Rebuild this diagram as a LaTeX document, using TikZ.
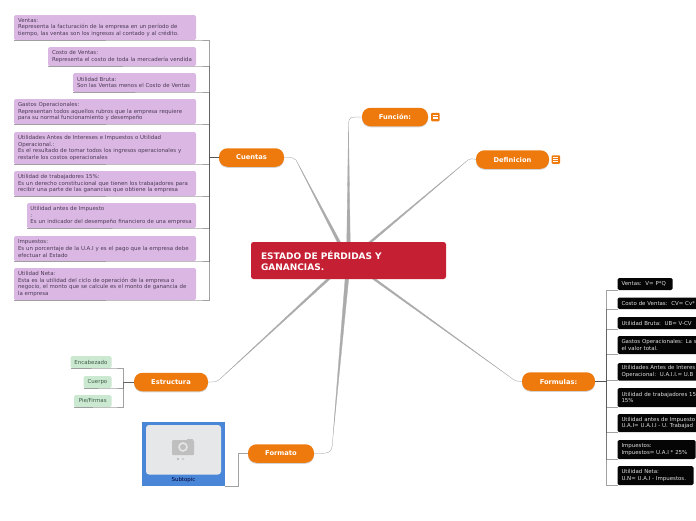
\documentclass[tikz,border=0pt]{standalone}
\usepackage{fontspec}
\setmainfont{DejaVu Sans}
\usetikzlibrary{positioning, calc, shadows, backgrounds}
\definecolor{rootred}{HTML}{C51F33}
\definecolor{branchorange}{HTML}{EE7A0E}
\definecolor{notepurple}{HTML}{DBB8E3}
\definecolor{notetext}{HTML}{4B3A55}
\definecolor{leafgreen}{HTML}{CBE8D0}
\definecolor{leaftext}{HTML}{3C5A48}
\definecolor{formulablack}{HTML}{050505}
\definecolor{photoblue}{HTML}{4A86D8}
\definecolor{photogray}{HTML}{E6E7E9}
\definecolor{linkgray}{HTML}{ABABAB}
\definecolor{bracegray}{HTML}{555555}
% spoke: target, end of the straight part, corner
\newcommand{\spoke}[3]{%
  \path[link] ($(root.center)+(-2,0)$) -- (#2) .. controls (#3) .. (#1)
    .. controls (#3) .. (#2) -- ($(root.center)+(2,0)$) -- cycle;}

\begin{document}
\begin{tikzpicture}[
    x=1pt, y=-1pt,
    every node/.style={inner sep=0pt, outer sep=0pt},
    rootbox/.style={rectangle, rounded corners=2.5pt, fill=rootred, text=white,
                    font=\fontsize{9}{11.2}\selectfont\bfseries, align=left,
                    minimum width=195pt, minimum height=37pt,
                    text width=175pt},
    branch/.style={rectangle, rounded corners=8.5pt, fill=branchorange, text=white,
                   font=\fontsize{6.7}{8}\selectfont\bfseries, minimum height=18.5pt,
                   drop shadow={shadow xshift=0pt, shadow yshift=-1pt, opacity=0.35}},
    notebox/.style={rectangle, rounded corners=1.5pt, fill=notepurple, text=notetext,
                    font=\fontsize{5.45}{6.6}\selectfont, align=left, anchor=north east,
                    text width=#1-8pt, minimum width=#1, inner xsep=4pt},
    formula/.style={rectangle, rounded corners=1.5pt, fill=formulablack, text=white!88!black,
                    font=\fontsize{5.45}{6.6}\selectfont, align=left, anchor=north west,
                    text width=#1-8pt, minimum width=#1, inner xsep=4pt},
    leaf/.style={rectangle, rounded corners=1.5pt, fill=leafgreen, text=leaftext,
                 font=\fontsize{5.45}{6.6}\selectfont, anchor=north east, minimum height=12pt},
    noteicon/.style={rectangle, rounded corners=1pt, fill=branchorange, minimum size=8.5pt,
                     path picture={
                       \foreach \yy in {-1.8,0,1.8}
                         \draw[white, line width=0.7pt]
                           ($(path picture bounding box.center)+(-2.4,\yy)$) -- ++(4.8,0);}},
    link/.style={fill=linkgray, draw=linkgray, line width=0.3pt, line join=round},
    brace/.style={draw=bracegray, draw opacity=0.55, line width=0.7pt}
]
\useasboundingbox (0,0) rectangle (696,520);

% Center and branches
\node[rootbox] (root) at (348.5,260.5)
    {ESTADO DE PÉRDIDAS Y\\GANANCIAS.};
\node[branch, minimum width=66pt] (funcion) at (395,117) {Función:};
\node[branch, minimum width=73pt] (definicion) at (512.5,159.5) {Definicion};
\node[branch, minimum width=65pt] (cuentas) at (251.5,157.5) {Cuentas};
\node[branch, minimum width=74pt] (estructura) at (171,382) {Estructura};
\node[branch, minimum width=66pt] (formato) at (281,453.5) {Formato};
\node[branch, minimum width=73pt] (formulas) at (558.5,381.5) {Formulas:};

\node[noteicon, right=3pt of funcion] (funcionnote) {};
\node[noteicon, right=2.5pt of definicion] (definicionnote) {};

% Notes of Cuentas
\node[notebox=182pt, minimum height=25pt] (ventas) at (196,15)
    {Ventas:\\Representa la facturación de la empresa en un período de\\tiempo, las ventas son los ingresos al contado y al crédito.};
\node[notebox=148pt, minimum height=19pt] (costo) at (196,47)
    {Costo de Ventas:\\Representa el costo de toda la mercadería vendida};
\node[notebox=123pt, minimum height=19pt] (bruta) at (196,73)
    {Utilidad Bruta:\\Son las Ventas menos el Costo de Ventas};
\node[notebox=182pt, minimum height=25pt] (gastos) at (196,99)
    {Gastos Operacionales:\\Representan todos aquellos rubros que la empresa requiere\\para su normal funcionamiento y desempeño};
\node[notebox=182pt, minimum height=32pt] (antesint) at (196,132)
    {Utilidades Antes de Intereses e Impuestos o Utilidad\\Operacional.:\\Es el resultado de tomar todos los ingresos operacionales y\\restarle los costos operacionales};
\node[notebox=182pt, minimum height=25pt] (trabajadores) at (196,171)
    {Utilidad de trabajadores 15\%:\\Es un derecho constitucional que tienen los trabajadores para\\recibir una parte de las ganancias que obtiene la empresa};
\node[notebox=169pt, text width=162pt, inner xsep=3.5pt, minimum height=25pt] (antesimp) at (196,203)
    {Utilidad antes de Impuesto\\:\\Es un indicador del desempeño financiero de una empresa};
\node[notebox=182pt, minimum height=25pt] (impuestos) at (196,236)
    {Impuestos:\\Es un porcentaje de la U.A.I y es el pago que la empresa debe\\efectuar al Estado};
\node[notebox=182pt, minimum height=32pt] (neta) at (196,268)
    {Utilidad Neta:\\Esta es la utilidad del ciclo de operación de la empresa o\\negocio, el monto que se calcule es el monto de ganancia de\\la empresa};

% Formulas
\node[formula=55pt, minimum height=12pt] (fventas) at (617.5,278)
    {Ventas:\ \ V= P*Q};
\node[formula=100pt, minimum height=11.5pt] (fcosto) at (617.5,297.5)
    {Costo de Ventas:\ \ CV= Cv*};
\node[formula=100pt, minimum height=12pt] (fbruta) at (617.5,317)
    {Utilidad Bruta:\ \ UB= V-CV};
\node[formula=100pt, minimum height=18pt] (fgastos) at (617.5,336)
    {Gastos Operacionales: La s\\el valor total.};
\node[formula=100pt, minimum height=17.5pt] (fantesint) at (617.5,363)
    {Utilidades Antes de Interes\\Operacional:\ \ U.A.I.I.= U.B};
\node[formula=100pt, minimum height=19pt] (ftrabajadores) at (617.5,388)
    {Utilidad de trabajadores 15\\15\%};
\node[formula=100pt, minimum height=18pt] (fantesimp) at (617.5,414)
    {Utilidad antes de Impuesto\\U.A.I= U.A.I.I - U. Trabajad};
\node[formula=78pt, minimum height=19pt] (fimpuestos) at (617.5,440)
    {Impuestos:\\Impuestos= U.A.I * 25\%};
\node[formula=76pt, minimum height=19pt] (fneta) at (617.5,466)
    {Utilidad Neta:\\U.N= U.A.I - Impuestos.};

% Estructura
\node[leaf, minimum width=41pt] (encabezado) at (111.5,356) {Encabezado};
\node[leaf, minimum width=28pt] (cuerpo) at (111.5,376) {Cuerpo};
\node[leaf, minimum width=37.5pt] (pie) at (111.5,395) {Pie/Firmas};

% Formato
\node[rectangle, fill=photoblue, anchor=north west, minimum width=83pt, minimum height=64pt] (subtopic) at (142,422) {};
\node[rectangle, rounded corners=3pt, fill=photogray, anchor=north west, minimum width=75pt, minimum height=49.5pt] (photo) at (146,425) {};
\node[font=\fontsize{5.45}{6.6}\selectfont, text=black!80!blue] (subtopictext) at (183.5,480) {Subtopic};
\fill[black!25, rounded corners=1pt] (172,440) rectangle (194,455);
\fill[black!25] (187,439) rectangle (193,441);
\draw[photogray, line width=1.5pt, fill=black!25] (183,447) circle (4pt);
\fill[black!30] (178,459) circle (1.1pt);
\fill[black!22] (183,459) circle (1.1pt);
\fill[black!7] (188,459) circle (1.1pt);

% Spokes
\begin{scope}[on background layer]
\spoke{funcion.west}{348.5,125}{349,117}
\spoke{definicion.west}{468,160}{471,158.5}
\spoke{cuentas.east}{296,160}{293,157.5}
\spoke{estructura.east}{220,379}{216,382}
\spoke{formato.east}{333,436}{332,453.5}
\spoke{formulas.west}{510,377}{515,381}
\end{scope}

% Brackets
\draw[brace] (cuentas.west) -- ++(-10,0) |- (ventas.south east) -- (ventas.south west);
\draw[brace] (cuentas.west) -- ++(-10,0) |- (costo.south east) -- (costo.south west);
\draw[brace] (cuentas.west) -- ++(-10,0) |- (bruta.south east) -- (bruta.south west);
\draw[brace] (cuentas.west) -- ++(-10,0) |- (gastos.south east) -- (gastos.south west);
\draw[brace] (cuentas.west) -- ++(-10,0) |- (antesint.south east) -- (antesint.south west);
\draw[brace] (cuentas.west) -- ++(-10,0) |- (trabajadores.south east) -- (trabajadores.south west);
\draw[brace] (cuentas.west) -- ++(-10,0) |- (antesimp.south east) -- (antesimp.south west);
\draw[brace] (cuentas.west) -- ++(-10,0) |- (impuestos.south east) -- (impuestos.south west);
\draw[brace] (cuentas.west) -- ++(-10,0) |- (neta.south east) -- (neta.south west);

\draw[brace] (formulas.east) -- ++(11,0) |- (fventas.south west);
\draw[brace] (formulas.east) -- ++(11,0) |- (fcosto.south west);
\draw[brace] (formulas.east) -- ++(11,0) |- (fbruta.south west);
\draw[brace] (formulas.east) -- ++(11,0) |- (fgastos.south west);
\draw[brace] (formulas.east) -- ++(11,0) |- (fantesint.south west);
\draw[brace] (formulas.east) -- ++(11,0) |- (ftrabajadores.south west);
\draw[brace] (formulas.east) -- ++(11,0) |- (fantesimp.south west);
\draw[brace] (formulas.east) -- ++(11,0) |- (fimpuestos.south west);
\draw[brace] (formulas.east) -- ++(11,0) |- (fneta.south west);

\draw[brace] (estructura.west) -- ++(-10.5,0) |- (encabezado.south east) -- (encabezado.south west);
\draw[brace] (estructura.west) -- ++(-10.5,0) |- (cuerpo.south east) -- (cuerpo.south west);
\draw[brace] (estructura.west) -- ++(-10.5,0) |- (pie.south east) -- (pie.south west);

\draw[brace] (formato.west) -- ++(-10,0) |- (subtopic.south east);
\end{tikzpicture}
\end{document}
